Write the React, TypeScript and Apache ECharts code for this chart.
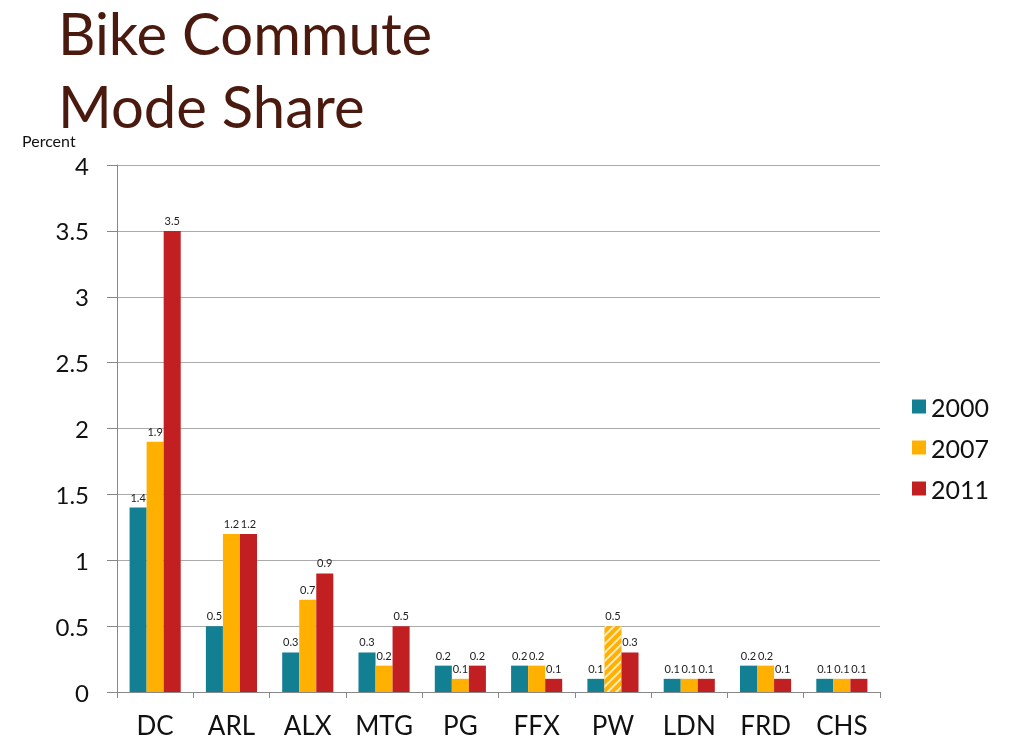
import React, { useEffect, useRef } from "react";
import * as echarts from "echarts";

const categories = ["DC", "ARL", "ALX", "MTG", "PG", "FFX", "PW", "LDN", "FRD", "CHS"];
const years = ["2000", "2007", "2011"];
const values2000 = [1.4, 0.5, 0.3, 0.3, 0.2, 0.2, 0.1, 0.1, 0.2, 0.1];
const values2007 = [1.9, 1.2, 0.7, 0.2, 0.1, 0.2, 0.5, 0.1, 0.2, 0.1];
const values2011 = [3.5, 1.2, 0.9, 0.5, 0.2, 0.1, 0.3, 0.1, 0.1, 0.1];
const hatchedIndex2007 = 6;
const colors = ["#137f93", "#ffb000", "#c21f22"];
const titleLines = ["Bike Commute", "Mode Share"];

const FONT = "Lato, 'Open Sans', sans-serif";

export default function App() {
  const ref = useRef<HTMLDivElement>(null);
  useEffect(() => {
    document.body.style.margin = "0";
    const chart = echarts.init(ref.current!, null, { renderer: "svg" });
    const label = {
      show: true,
      position: "top",
      distance: 5,
      fontSize: 11,
      color: "#222",
      fontFamily: FONT,
    };
    const mk = (name: string, data: number[], color: string, hatch?: number) => ({
      name,
      type: "bar",
      barGap: "0%",
      barCategoryGap: "33%",
      itemStyle: { color },
      label,
      data: data.map((v, i) =>
        i === hatch
          ? {
              value: v,
              itemStyle: {
                color,
                decal: {
                  symbol: "rect",
                  color: "rgba(255,255,255,0.75)",
                  dashArrayX: [1, 0],
                  dashArrayY: [2, 4],
                  rotation: -Math.PI / 4,
                },
              },
            }
          : v
      ),
    });
    const titleStyle = {
      fontSize: 58,
      lineHeight: 46,
      fill: "#4b1a0f",
      fontFamily: FONT,
    };
    chart.setOption({
      animation: false,
      textStyle: { fontFamily: FONT },
      graphic: [
        { type: "text", left: 58, top: 3, style: { ...titleStyle, text: titleLines[0] } },
        { type: "text", left: 58, top: 76, style: { ...titleStyle, text: titleLines[1] } },
        {
          type: "text",
          left: 22,
          top: 132,
          style: { text: "Percent", fontSize: 16, fill: "#111", fontFamily: FONT },
        },
      ],
      legend: {
        orient: "vertical",
        left: 907,
        top: 389,
        itemWidth: 14,
        itemHeight: 14,
        itemGap: 16,
        icon: "rect",
        data: years,
        textStyle: { fontSize: 25, color: "#111", fontFamily: FONT },
      },
      grid: { left: 117, right: 132, top: 165, bottom: 60, containLabel: false },
      xAxis: {
        type: "category",
        data: categories,
        axisLine: { lineStyle: { color: "#888" } },
        axisTick: { show: true, length: 6, lineStyle: { color: "#888" } },
        axisLabel: { fontSize: 26, color: "#111", margin: 20, interval: 0, fontFamily: FONT },
      },
      yAxis: {
        type: "value",
        min: 0,
        max: 4,
        interval: 0.5,
        axisLine: { show: true, lineStyle: { color: "#888" } },
        axisTick: { show: true, length: 10, inside: false, lineStyle: { color: "#888" } },
        axisLabel: { fontSize: 24, color: "#111", margin: 28, fontFamily: FONT },
        splitLine: { lineStyle: { color: "#aaa" } },
      },
      series: [
        mk(years[0], values2000, colors[0]),
        mk(years[1], values2007, colors[1], hatchedIndex2007),
        mk(years[2], values2011, colors[2]),
      ],
    });
    return () => chart.dispose();
  }, []);
  return <div ref={ref} style={{ position: "fixed", left: 0, top: 0, width: 1012, height: 752 }} />;
}
